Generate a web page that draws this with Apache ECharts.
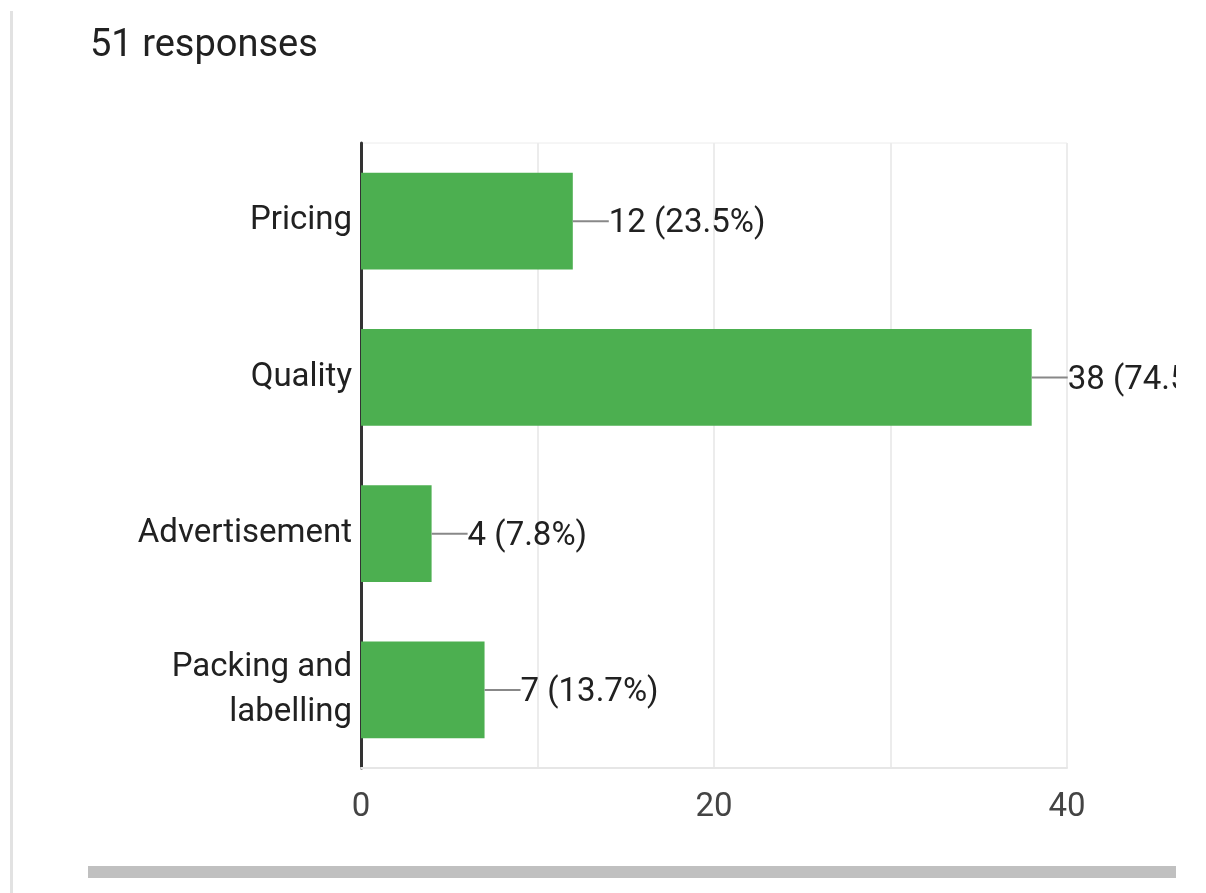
<!DOCTYPE html>
<html>
<head>
<meta charset="utf-8">
<script src="https://cdn.jsdelivr.net/npm/echarts@6/dist/echarts.min.js"></script>
<style>
  html, body { margin: 0; padding: 0; background: #fff; }
  #frame { position: absolute; left: 0; top: 0; width: 1176px; height: 893px; overflow: hidden; }
  #chart { position: absolute; left: 0; top: 0; width: 1206px; height: 893px; }
  #edge { position: absolute; left: 10px; top: 11px; width: 3px; height: 882px; background: #e2e2e2; }
  #scroll { position: absolute; left: 88px; top: 866px; width: 1088px; height: 12px; background: #c0c0c0; }
</style>
</head>
<body>
<div id="frame"><div id="chart"></div></div>
<div id="edge"></div>
<div id="scroll"></div>
<script>
const totalResponses = 51;
const categories = ['Pricing', 'Quality', 'Advertisement', 'Packing and\nlabelling'];
const counts = [12, 38, 4, 7];
const xTicks = [0, 10, 20, 30, 40];

const chart = echarts.init(document.getElementById('chart'), null, { renderer: 'canvas' });

chart.setOption({
  animation: false,
  title: {
    text: totalResponses + ' responses',
    left: 85,
    top: 22,
    textStyle: { fontFamily: 'Roboto', fontSize: 38, fontWeight: 'normal', color: '#212121' }
  },
  grid: {
    left: 361, right: 139, top: 143, bottom: 125,
    show: true, borderColor: '#ececec', borderWidth: 1
  },
  xAxis: {
    type: 'value',
    min: xTicks[0],
    max: xTicks[xTicks.length - 1],
    interval: 10,
    axisLine: { show: true, lineStyle: { color: '#e6e6e6', width: 2 } },
    axisTick: { show: false },
    splitLine: { show: true, lineStyle: { color: '#ececec', width: 2 } },
    axisLabel: {
      margin: 23,
      fontFamily: 'Roboto', fontSize: 33, color: '#444',
      formatter: function (v) { return v % 20 === 0 ? String(v) : ''; }
    }
  },
  yAxis: {
    type: 'category',
    inverse: true,
    data: categories,
    axisLine: { show: true, onZero: false, lineStyle: { color: '#333', width: 3 } },
    axisTick: { show: false },
    axisLabel: {
      margin: 9,
      fontFamily: 'Roboto', fontSize: 33, color: '#212121',
      lineHeight: 45, align: 'right', padding: [6, 0, 0, 0]
    }
  },
  series: [{
    type: 'bar',
    data: counts,
    barCategoryGap: '38%',
    itemStyle: { color: '#4caf50' },
    label: {
      show: true,
      position: 'right',
      distance: 0,
      formatter: function (p) {
        const pct = (p.value / totalResponses * 100).toFixed(1);
        return '{dash|}{val|' + p.value + ' (' + pct + '%)}';
      },
      rich: {
        dash: { width: 36, height: 2, backgroundColor: '#888', verticalAlign: 'middle' },
        val: { fontFamily: 'Roboto', fontSize: 33, color: '#212121', verticalAlign: 'middle', padding: [6, 0, 0, 0] }
      }
    }
  }]
});
</script>
</body>
</html>
